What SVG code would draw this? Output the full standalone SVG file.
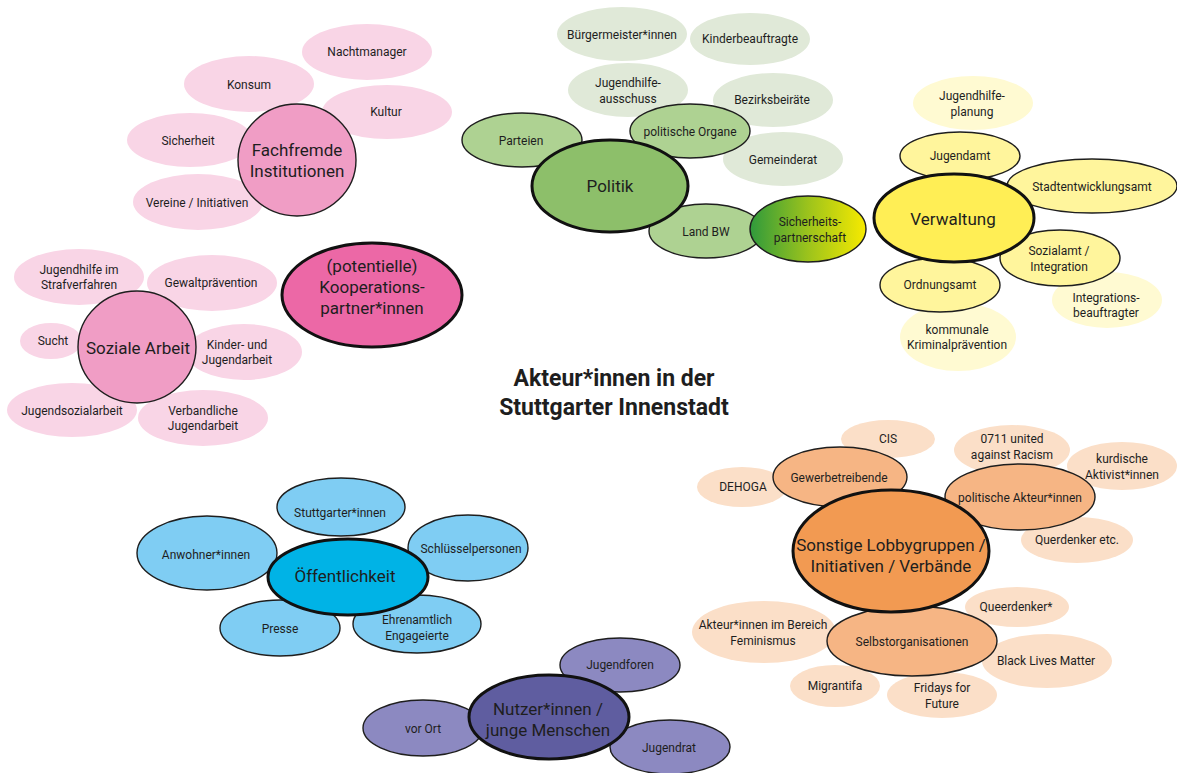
<svg xmlns="http://www.w3.org/2000/svg" width="1177" height="773" viewBox="0 0 1177 773">
<style>
text{font-family:Roboto,"Liberation Sans",sans-serif;fill:#1e1e1e;text-anchor:middle;dominant-baseline:central}
.s{font-size:12px}
.c{font-size:17px}
.t{font-size:23px;font-weight:bold}
.n{stroke:none}
.o{stroke:#1e1e1e;stroke-width:1.4}
.k{stroke:#111;stroke-width:3}
.pk1{fill:#f9d5e6}.pk2{fill:#f09dc5}.pk3{fill:#ec68a6}
.gr1{fill:#e0e9d8}.gr2{fill:#aed292}.gr3{fill:#8dbf6a}
.ye1{fill:#fffad2}.ye2{fill:#fff59c}.ye3{fill:#ffee55}
.or1{fill:#fbdfc8}.or2{fill:#f6b584}.or3{fill:#f29a52}
.bl2{fill:#7fcdf3}.bl3{fill:#00b3e6}
.pu2{fill:#8c89c1}.pu3{fill:#5f5da0}
</style>
<defs>
<linearGradient id="gsp" x1="0" y1="0" x2="1" y2="0">
<stop offset="0" stop-color="#2f9a3c"/>
<stop offset="0.5" stop-color="#9cc31c"/>
<stop offset="1" stop-color="#f7ea00"/>
</linearGradient>
</defs>
<rect width="1177" height="773" fill="#fff"/>
<g id="connectors"/>

<!-- Pink: Fachfremde Institutionen -->
<g id="nachtmanager"><ellipse class="pk1 n" cx="367" cy="52" rx="65" ry="28"/><text class="s" x="367" y="52">Nachtmanager</text></g>
<g id="konsum"><ellipse class="pk1 n" cx="249" cy="84" rx="65" ry="28"/><text class="s" x="249" y="85">Konsum</text></g>
<g id="kultur"><ellipse class="pk1 n" cx="387" cy="112" rx="65" ry="27"/><text class="s" x="386" y="112">Kultur</text></g>
<g id="sicherheit"><ellipse class="pk1 n" cx="190" cy="140" rx="63" ry="27"/><text class="s" x="188" y="141">Sicherheit</text></g>
<g id="vereine"><ellipse class="pk1 n" cx="198" cy="202" rx="65" ry="28"/><text class="s" x="197" y="203">Vereine / Initiativen</text></g>
<g id="fachfremde"><ellipse class="pk2 o" cx="297" cy="160" rx="59" ry="56"/><text class="c" x="297" y="150">Fachfremde</text><text class="c" x="297" y="171">Institutionen</text></g>

<!-- Pink: Kooperationspartner -->
<g id="kooperation"><ellipse class="pk3 k" cx="372" cy="295" rx="90" ry="52"/><text class="c" x="372" y="266">(potentielle)</text><text class="c" x="372" y="287">Kooperations-</text><text class="c" x="372" y="308">partner*innen</text></g>

<!-- Pink: Soziale Arbeit -->
<g id="jugendhilfe-straf"><ellipse class="pk1 n" cx="79" cy="277" rx="65" ry="28"/><text class="s" x="79" y="270">Jugendhilfe im</text><text class="s" x="79" y="285">Strafverfahren</text></g>
<g id="gewaltpraevention"><ellipse class="pk1 n" cx="212" cy="283" rx="65" ry="28"/><text class="s" x="211" y="283">Gewaltprävention</text></g>
<g id="sucht"><ellipse class="pk1 n" cx="51" cy="341" rx="31" ry="18"/><text class="s" x="53" y="341">Sucht</text></g>
<g id="kinder-jugendarbeit"><ellipse class="pk1 n" cx="244" cy="352" rx="58" ry="28"/><text class="s" x="237" y="345">Kinder- und</text><text class="s" x="237" y="360">Jugendarbeit</text></g>
<g id="jugendsozialarbeit"><ellipse class="pk1 n" cx="72" cy="410" rx="65" ry="27"/><text class="s" x="72" y="411">Jugendsozialarbeit</text></g>
<g id="verbandliche"><ellipse class="pk1 n" cx="203" cy="418" rx="65" ry="28"/><text class="s" x="203" y="411">Verbandliche</text><text class="s" x="203" y="426">Jugendarbeit</text></g>
<g id="soziale-arbeit"><ellipse class="pk2 o" cx="137" cy="347" rx="59" ry="56"/><text class="c" x="138" y="348">Soziale Arbeit</text></g>

<!-- Green: Politik -->
<g id="buergermeister"><ellipse class="gr1 n" cx="622" cy="34" rx="65" ry="27"/><text class="s" x="622" y="35">Bürgermeister*innen</text></g>
<g id="kinderbeauftragte"><ellipse class="gr1 n" cx="750" cy="39" rx="60" ry="26"/><text class="s" x="750" y="39">Kinderbeauftragte</text></g>
<g id="jugendhilfeausschuss"><ellipse class="gr1 n" cx="628" cy="90" rx="60" ry="27"/><text class="s" x="628" y="83">Jugendhilfe-</text><text class="s" x="628" y="99">ausschuss</text></g>
<g id="bezirksbeiraete"><ellipse class="gr1 n" cx="773" cy="100" rx="60" ry="27"/><text class="s" x="772" y="100">Bezirksbeiräte</text></g>
<g id="gemeinderat"><ellipse class="gr1 n" cx="783" cy="159" rx="60" ry="27"/><text class="s" x="783" y="160">Gemeinderat</text></g>
<g id="parteien"><ellipse class="gr2 o" cx="522" cy="140" rx="60" ry="27"/><text class="s" x="521" y="141">Parteien</text></g>
<g id="politische-organe"><ellipse class="gr2 o" cx="690" cy="131" rx="60" ry="27"/><text class="s" x="690" y="132">politische Organe</text></g>
<g id="land-bw"><ellipse class="gr2 o" cx="706" cy="231" rx="57" ry="27"/><text class="s" x="706" y="232">Land BW</text></g>
<g id="politik"><ellipse class="gr3 k" cx="610" cy="186" rx="78" ry="46"/><text class="c" x="610" y="186">Politik</text></g>
<g id="sicherheitspartnerschaft"><ellipse fill="url(#gsp)" class="o" cx="808" cy="229" rx="58" ry="33"/><text class="s" x="810" y="222">Sicherheits-</text><text class="s" x="810" y="238">partnerschaft</text></g>

<!-- Yellow: Verwaltung -->
<g id="jugendhilfeplanung"><ellipse class="ye1 n" cx="973" cy="103" rx="60" ry="27"/><text class="s" x="972" y="96">Jugendhilfe-</text><text class="s" x="972" y="112">planung</text></g>
<g id="kriminalpraevention"><ellipse class="ye1 n" cx="958" cy="337" rx="58" ry="34"/><text class="s" x="957" y="330">kommunale</text><text class="s" x="957" y="345">Kriminalprävention</text></g>
<g id="integrationsbeauftragter"><ellipse class="ye1 n" cx="1107" cy="300" rx="55" ry="28"/><text class="s" x="1106" y="298">Integrations-</text><text class="s" x="1106" y="313">beauftragter</text></g>
<g id="jugendamt"><ellipse class="ye2 o" cx="960" cy="156" rx="60" ry="24"/><text class="s" x="960" y="156">Jugendamt</text></g>
<g id="stadtentwicklungsamt"><ellipse class="ye2 o" cx="1092" cy="186" rx="85" ry="27"/><text class="s" x="1092" y="187">Stadtentwicklungsamt</text></g>
<g id="sozialamt"><ellipse class="ye2 o" cx="1060" cy="258" rx="60" ry="28"/><text class="s" x="1059" y="251">Sozialamt /</text><text class="s" x="1059" y="267">Integration</text></g>
<g id="ordnungsamt"><ellipse class="ye2 o" cx="940" cy="285" rx="60" ry="27"/><text class="s" x="940" y="285">Ordnungsamt</text></g>
<g id="verwaltung"><ellipse class="ye3 k" cx="954" cy="218" rx="80" ry="44"/><text class="c" x="953" y="219">Verwaltung</text></g>

<!-- Title -->
<g id="title"><text class="t" x="614" y="378">Akteur*innen in der</text><text class="t" x="614" y="407">Stuttgarter Innenstadt</text></g>

<!-- Orange: Sonstige -->
<g id="cis"><ellipse class="or1 n" cx="888" cy="439" rx="47" ry="19"/><text class="s" x="888" y="439">CIS</text></g>
<g id="united"><ellipse class="or1 n" cx="1012" cy="450" rx="58" ry="25"/><text class="s" x="1012" y="439">0711 united</text><text class="s" x="1012" y="455">against Racism</text></g>
<g id="kurdische"><ellipse class="or1 n" cx="1122" cy="466" rx="55" ry="24"/></g>
<g id="dehoga"><ellipse class="or1 n" cx="742" cy="487" rx="45" ry="20"/><text class="s" x="743" y="487">DEHOGA</text></g>
<g id="querdenker-etc"><ellipse class="or1 n" cx="1077" cy="540" rx="56" ry="23"/><text class="s" x="1077" y="540">Querdenker etc.</text></g>
<g id="gewerbetreibende"><ellipse class="or2 o" cx="840" cy="477" rx="67" ry="30"/><text class="s" x="839" y="478">Gewerbetreibende</text></g>
<g id="politische-akteure"><ellipse class="or2 o" cx="1020" cy="497" rx="75" ry="33"/><text class="s" x="1020" y="498">politische Akteur*innen</text></g>
<g id="kurdische-label"><text class="s" x="1122" y="459">kurdische</text><text class="s" x="1122" y="475">Aktivist*innen</text></g>
<g id="feminismus"><ellipse class="or1 n" cx="764" cy="632" rx="72" ry="31"/><text class="s" x="763" y="625">Akteur*innen im Bereich</text><text class="s" x="763" y="641">Feminismus</text></g>
<g id="queerdenker"><ellipse class="or1 n" cx="1017" cy="607" rx="52" ry="20"/><text class="s" x="1016" y="607">Queerdenker*</text></g>
<g id="blm"><ellipse class="or1 n" cx="1047" cy="661" rx="65" ry="27"/><text class="s" x="1046" y="661">Black Lives Matter</text></g>
<g id="migrantifa"><ellipse class="or1 n" cx="835" cy="686" rx="45" ry="21"/><text class="s" x="835" y="686">Migrantifa</text></g>
<g id="fridays"><ellipse class="or1 n" cx="942" cy="695" rx="55" ry="23"/><text class="s" x="942" y="688">Fridays for</text><text class="s" x="942" y="704">Future</text></g>
<g id="selbstorganisationen"><ellipse class="or2 o" cx="912" cy="641" rx="85" ry="35"/><text class="s" x="912" y="642">Selbstorganisationen</text></g>
<g id="sonstige"><ellipse class="or3 k" cx="891" cy="551" rx="98" ry="61"/><text class="c" x="891" y="545">Sonstige Lobbygruppen /</text><text class="c" x="891" y="566">Initiativen / Verbände</text></g>

<!-- Blue: Öffentlichkeit -->
<g id="stuttgarter"><ellipse class="bl2 o" cx="341" cy="507" rx="64" ry="29"/><text class="s" x="340" y="513">Stuttgarter*innen</text></g>
<g id="anwohner"><ellipse class="bl2 o" cx="207" cy="553" rx="70" ry="37"/><text class="s" x="206" y="555">Anwohner*innen</text></g>
<g id="schluesselpersonen"><ellipse class="bl2 o" cx="468" cy="548" rx="60" ry="33"/><text class="s" x="471" y="549">Schlüsselpersonen</text></g>
<g id="presse"><ellipse class="bl2 o" cx="280" cy="628" rx="60" ry="28"/><text class="s" x="280" y="629">Presse</text></g>
<g id="ehrenamtlich"><ellipse class="bl2 o" cx="417" cy="624" rx="64" ry="29"/><text class="s" x="417" y="620">Ehrenamtlich</text><text class="s" x="417" y="636">Engageierte</text></g>
<g id="oeffentlichkeit"><ellipse class="bl3 k" cx="348" cy="577" rx="80" ry="38"/><text class="c" x="345" y="576">Öffentlichkeit</text></g>

<!-- Purple: Nutzer -->
<g id="jugendforen"><ellipse class="pu2 o" cx="620" cy="665" rx="60" ry="27"/><text class="s" x="620" y="665">Jugendforen</text></g>
<g id="vor-ort"><ellipse class="pu2 o" cx="423" cy="728" rx="60" ry="28"/><text class="s" x="423" y="729">vor Ort</text></g>
<g id="jugendrat"><ellipse class="pu2 o" cx="670" cy="747" rx="60" ry="27"/><text class="s" x="669" y="748">Jugendrat</text></g>
<g id="nutzer"><ellipse class="pu3 k" cx="549" cy="717" rx="80" ry="42"/><text class="c" x="548" y="709">Nutzer*innen /</text><text class="c" x="548" y="730">junge Menschen</text></g>
</svg>
